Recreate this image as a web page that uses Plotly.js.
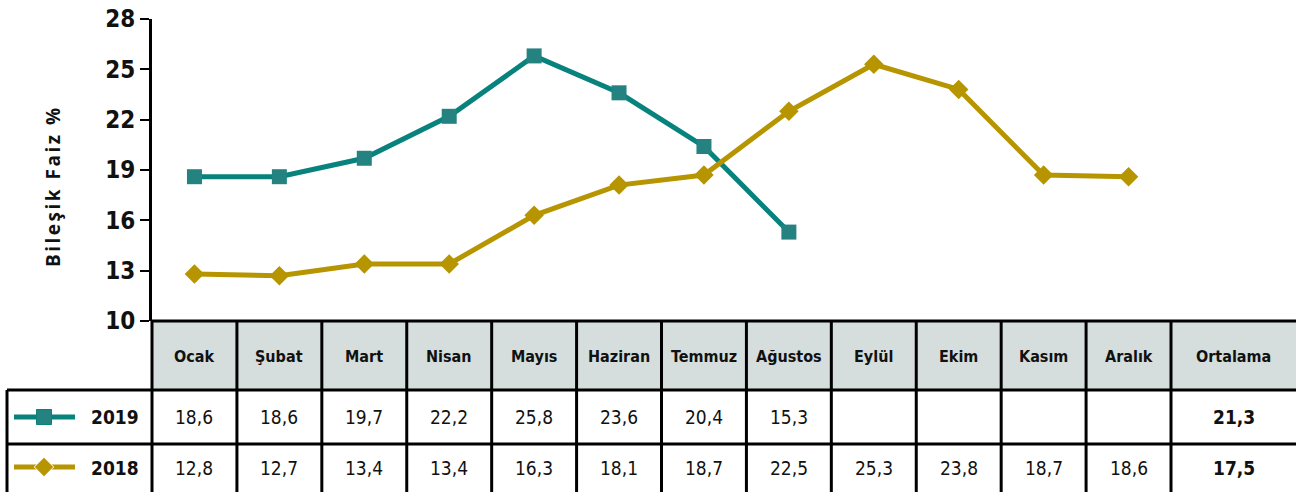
<!DOCTYPE html>
<html><head><meta charset="utf-8">
<script src="https://cdn.plot.ly/plotly-3.0.1.min.js"></script>
<style>
html,body{margin:0;padding:0;background:#fff}
svg text{font-stretch:condensed}
text[data-unformatted^="Bile"]{letter-spacing:2.5px;font-stretch:normal}
</style>
</head><body><div id="chart" style="width:1296px;height:492px"></div>
<script>
// ---- data ----
const months = ['Ocak','Şubat','Mart','Nisan','Mayıs','Haziran','Temmuz','Ağustos','Eylül','Ekim','Kasım','Aralık'];
const avgLabel = 'Ortalama';
const seriesNames = ['2019','2018'];
const values2019 = [18.6,18.6,19.7,22.2,25.8,23.6,20.4,15.3,null,null,null,null];
const values2018 = [12.8,12.7,13.4,13.4,16.3,18.1,18.7,22.5,25.3,23.8,18.7,18.6];
const avg2019 = 21.3;
const avg2018 = 17.5;
const yTicks = [10,13,16,19,22,25,28];
const yTitle = 'Bileşik Faiz %';

// ---- layout helpers ----
const W = 1296, H = 492, TOP = 19;
const PH = H - TOP;
const py = Y => (H - Y) / PH;          // pixel row -> paper y
const px = X => X / W;                 // pixel col -> paper x
const plotLeft = 152, tableTop = 321, headBottom = 390, row1Bottom = 444, legLeft = 7;
const colW = (1171 - plotLeft) / 12;
const xMin = -0.5, xMax = 11.5 + (W - 1171) / colW;
const avgX = (11.5 + xMax) / 2;
const fmt = v => v == null ? '' : v.toFixed(1).replace('.', ',');

const teal = '#08827d', tealM = '#248380';
const gold = '#b69500', goldM = '#b69500';
const narrow = 'DejaVu Sans Condensed, DejaVu Sans, sans-serif';

const xIdx = months.map((m, i) => i);

const traces = [
  {x: xIdx, y: values2019, name: seriesNames[0], mode: 'lines+markers', connectgaps: false,
   line: {color: teal, width: 5}, marker: {symbol: 'square', size: 15, color: tealM, opacity: 1}, xaxis: 'x', yaxis: 'y'},
  {x: xIdx, y: values2018, name: seriesNames[1], mode: 'lines+markers',
   line: {color: gold, width: 5}, marker: {symbol: 'diamond', size: 15, color: goldM, opacity: 1}, xaxis: 'x', yaxis: 'y'},
  // legend swatches inside table
  {x: [14, 44, 75], y: [417, 417, 417], mode: 'lines+markers', line: {color: teal, width: 5},
   marker: {symbol: 'square', size: [0, 15, 0], color: tealM, opacity: 1}, xaxis: 'x2', yaxis: 'y2', hoverinfo: 'skip'},
  {x: [14, 44, 75], y: [467, 467, 467], mode: 'lines+markers', line: {color: gold, width: 5},
   marker: {symbol: 'diamond', size: [0, 15, 0], color: goldM, opacity: 1}, xaxis: 'x2', yaxis: 'y2', hoverinfo: 'skip'}
];

const shapes = [];
const L = {color: '#000', width: 3};
shapes.push({type: 'rect', xref: 'x', yref: 'paper', x0: xMin, x1: xMax, y0: py(headBottom), y1: py(tableTop),
  fillcolor: '#d5dedc', line: {width: 0}, layer: 'below'});
shapes.push({type: 'line', xref: 'paper', yref: 'paper', x0: px(plotLeft), x1: 1, y0: py(tableTop), y1: py(tableTop), line: L});
shapes.push({type: 'line', xref: 'paper', yref: 'paper', x0: px(legLeft), x1: 1, y0: py(headBottom), y1: py(headBottom), line: L});
shapes.push({type: 'line', xref: 'paper', yref: 'paper', x0: px(legLeft), x1: 1, y0: py(row1Bottom), y1: py(row1Bottom), line: L});
for (let k = 1; k <= months.length; k++) {
  shapes.push({type: 'line', xref: 'x', yref: 'paper', x0: k - 0.5, x1: k - 0.5, y0: 0, y1: py(tableTop), line: L});
}
shapes.push({type: 'line', xref: 'paper', yref: 'paper', x0: px(plotLeft), x1: px(plotLeft), y0: 0, y1: py(tableTop), line: L});
shapes.push({type: 'line', xref: 'paper', yref: 'paper', x0: px(legLeft), x1: px(legLeft), y0: 0, y1: py(headBottom), line: L});

const annotations = [];
const headFont = {family: narrow, size: 16, color: '#111', weight: 'bold'};
const valFont = {family: narrow, size: 19, color: '#111'};
const boldVal = {family: narrow, size: 19, color: '#111', weight: 'bold'};
const ann = (xref, x, Y, text, font, xa) => annotations.push({xref: xref, yref: 'paper', x: x, y: py(Y), text: text,
  showarrow: false, font: font, xanchor: xa || 'center', yanchor: 'middle'});
months.forEach((m, i) => {
  ann('x', i, 356, m, headFont);
  ann('x', i, 417, fmt(values2019[i]), valFont);
  ann('x', i, 468, fmt(values2018[i]), valFont);
});
ann('x', avgX, 356, avgLabel, headFont);
ann('x', avgX, 417, fmt(avg2019), boldVal);
ann('x', avgX, 468, fmt(avg2018), boldVal);
ann('paper', px(141), 417, seriesNames[0], boldVal, 'right');
ann('paper', px(141), 468, seriesNames[1], boldVal, 'right');
annotations.push({xref: 'paper', yref: 'paper', x: px(53), y: py(186), text: yTitle, textangle: -90, showarrow: false,
  xanchor: 'center', yanchor: 'middle',
  font: {family: 'Open Sans, sans-serif', size: 19, color: '#111', weight: 'bold'}});

const layout = {
  width: W, height: H,
  margin: {l: 0, r: 0, t: TOP, b: 0, pad: 0},
  paper_bgcolor: '#fff', plot_bgcolor: 'rgba(0,0,0,0)',
  showlegend: false,
  font: {family: narrow, color: '#111'},
  xaxis: {domain: [px(plotLeft), 1], range: [xMin, xMax], showgrid: false, zeroline: false,
    showticklabels: false, ticks: '', showline: false, fixedrange: true},
  yaxis: {domain: [py(tableTop), 1], range: [10, 28], tickvals: yTicks, ticktext: yTicks.map(String),
    showgrid: false, zeroline: false, showline: true, linecolor: '#000', linewidth: 3,
    ticks: 'outside', ticklen: 9, tickwidth: 2, tickcolor: '#000',
    tickfont: {family: narrow, size: 24, color: '#111', weight: 'bold'}, fixedrange: true},
  xaxis2: {domain: [0, px(plotLeft)], range: [0, plotLeft], visible: false, anchor: 'y2', fixedrange: true},
  yaxis2: {domain: [0, py(tableTop)], range: [H, tableTop], visible: false, anchor: 'x2', fixedrange: true},
  shapes: shapes,
  annotations: annotations
};

Plotly.newPlot('chart', traces, layout, {displayModeBar: false, staticPlot: true});
</script>
</body></html>
